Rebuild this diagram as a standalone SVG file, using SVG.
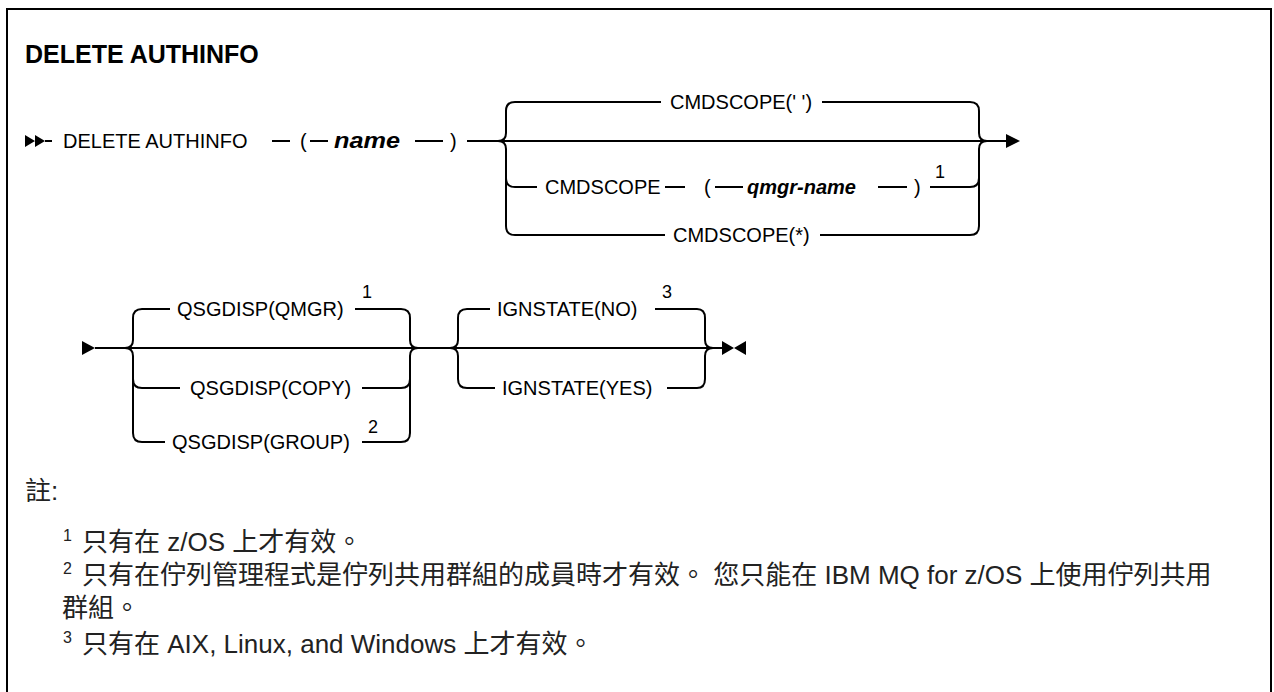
<svg xmlns="http://www.w3.org/2000/svg" width="1274" height="692" viewBox="0 0 1274 692">
<style>
.t{font-family:"Liberation Sans",Arial,sans-serif;font-size:20px;fill:#000}
.v{font-family:"Liberation Sans",Arial,sans-serif;font-size:20px;font-style:italic;font-weight:bold;fill:#000}
.s{font-family:"Liberation Sans",Arial,sans-serif;font-size:18px;fill:#000}
.h{font-family:"Liberation Sans",Arial,sans-serif;font-size:25px;font-weight:bold;fill:#000}
.n{font-family:"Liberation Sans","Noto Sans CJK TC",sans-serif;font-size:26px;fill:#222}
.ns{font-family:"Liberation Sans","Noto Sans CJK TC",sans-serif;font-size:16px;fill:#222}
.l{fill:none;stroke:#000;stroke-width:2}
.a{fill:#000;stroke:none}
</style>
<rect x="7" y="9" width="1264" height="700" fill="#fff" stroke="#000" stroke-width="2"/>
<text class="h" x="25" y="63">DELETE AUTHINFO</text>

<g id="connectors">
<!-- row 1 -->
<path class="a" d="M25 135 L35 141 L25 147 Z M35 135 L45 141 L35 147 Z"/>
<path class="l" d="M45 141 H52"/>
<path class="l" d="M272 141 H290 M310 141 H328 M415 141 H443 M467 141 H1008"/>
<path class="l" d="M515 102 Q506 102 506 111 V133 Q506 141 498 141 M498 141 Q506 141 506 149 V226 Q506 235 515 235 M506 178 Q506 187 515 187"/>
<path class="l" d="M515 102 H661 M822 102 H970 M515 187 H537 M665 187 H685 M715 187 H743 M878 187 H907 M930 187 H970 M515 235 H665 M820 235 H970"/>
<path class="l" d="M970 102 Q979 102 979 111 V133 Q979 141 987 141 M987 141 Q979 141 979 149 V226 Q979 235 970 235 M970 187 Q979 187 979 178"/>
<path class="a" d="M1006 134 L1020 141 L1006 148 Z"/>
<!-- row 2 -->
<path class="a" d="M82 341 L95 348 L82 355 Z"/>
<path class="l" d="M95 348 H722"/>
<path class="l" d="M142 309 Q133 309 133 318 V340 Q133 348 125 348 M125 348 Q133 348 133 356 V433 Q133 442 142 442 M133 379 Q133 388 142 388"/>
<path class="l" d="M142 309 H170 M355 309 H401 M142 388 H180 M362 388 H401 M142 442 H165 M362 442 H401"/>
<path class="l" d="M401 309 Q410 309 410 318 V340 Q410 348 418 348 M418 348 Q410 348 410 356 V433 Q410 442 401 442 M401 388 Q410 388 410 379"/>
<path class="l" d="M467 309 Q458 309 458 318 V340 Q458 348 450 348 M450 348 Q458 348 458 356 V379 Q458 388 467 388"/>
<path class="l" d="M467 309 H490 M655 309 H697 M467 388 H495 M667 388 H697"/>
<path class="l" d="M697 309 Q705 309 705 318 V340 Q705 348 713 348 M713 348 Q705 348 705 356 V379 Q705 388 697 388"/>
<path class="a" d="M722 341 L734 348 L722 355 Z M746 341 L734 348 L746 355 Z"/>
</g>

<g id="cmd"><text class="t" x="63" y="148">DELETE AUTHINFO</text></g>
<g id="lp1"><text class="t" x="300" y="148">(</text></g>
<g id="name"><text class="v" x="334" y="148" style="font-size:22px" textLength="66" lengthAdjust="spacingAndGlyphs">name</text></g>
<g id="rp1"><text class="t" x="450" y="148">)</text></g>
<g id="cmdscope-blank"><text class="t" x="670" y="109">CMDSCOPE(' ')</text></g>
<g id="cmdscope"><text class="t" x="545" y="194">CMDSCOPE</text></g>
<g id="lp2"><text class="t" x="704" y="194">(</text></g>
<g id="qmgr"><text class="v" x="747" y="194">qmgr-name</text></g>
<g id="rp2"><text class="t" x="914" y="194">)</text><text class="s" x="935" y="178">1</text></g>
<g id="cmdscope-star"><text class="t" x="673" y="242">CMDSCOPE(*)</text></g>

<g id="qsg-qmgr"><text class="t" x="177" y="316">QSGDISP(QMGR)</text><text class="s" x="362" y="298">1</text></g>
<g id="qsg-copy"><text class="t" x="190" y="395">QSGDISP(COPY)</text></g>
<g id="qsg-group"><text class="t" x="172" y="449">QSGDISP(GROUP)</text><text class="s" x="368" y="433">2</text></g>
<g id="ign-no"><text class="t" x="497" y="316">IGNSTATE(NO)</text><text class="s" x="662" y="298">3</text></g>
<g id="ign-yes"><text class="t" x="502" y="395">IGNSTATE(YES)</text></g>

<g id="notes">
<text class="n" x="25" y="500">註:</text>
<text class="ns" x="63" y="541">1</text><text class="n" x="82" y="551">只有在 z/OS 上才有效。</text>
<text class="ns" x="63" y="574">2</text><text class="n" x="82" y="584">只有在佇列管理程式是佇列共用群組的成員時才有效。 您只能在 IBM MQ for z/OS 上使用佇列共用</text>
<text class="n" x="62" y="617">群組。</text>
<text class="ns" x="63" y="643">3</text><text class="n" x="82" y="653">只有在 AIX, Linux, and Windows 上才有效。</text>
</g>
</svg>
